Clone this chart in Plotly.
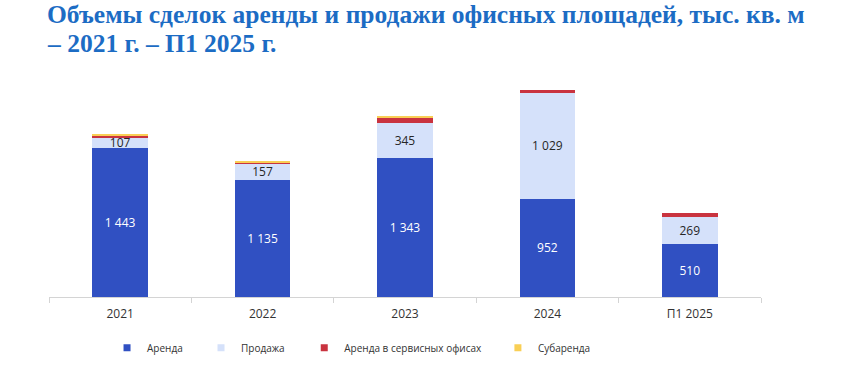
import plotly.graph_objects as go

categories = ["2021", "2022", "2023", "2024", "П1 2025"]
arenda = [1443, 1135, 1343, 952, 510]
prodazha = [107, 157, 345, 1029, 269]
servis = [15, 5, 45, 30, 35]
subarenda = [6, 25, 20, 0, 0]

series_names = ["Аренда", "Продажа", "Аренда в сервисных офисах", "Субаренда"]
series_colors = ["#3050C2", "#D5E1FA", "#C9333F", "#F9CF55"]

def fmt(v):
    return f"{v:,}".replace(",", "\u00a0")

fig = go.Figure()
fig.add_bar(x=categories, y=arenda, name=series_names[0], marker_color=series_colors[0],
            text=[fmt(v) for v in arenda], textposition="inside", insidetextanchor="middle",
            constraintext="none", showlegend=False,
            textfont=dict(color="white", size=12, family="Open Sans"))
fig.add_bar(x=categories, y=prodazha, name=series_names[1], marker_color=series_colors[1],
            text=[fmt(v) for v in prodazha], textposition="inside", insidetextanchor="middle",
            constraintext="none", showlegend=False,
            textfont=dict(color="#262626", size=12, family="Open Sans"))
fig.add_bar(x=categories, y=servis, name=series_names[2], marker_color=series_colors[2],
            showlegend=False)
fig.add_bar(x=categories, y=subarenda, name=series_names[3], marker_color=series_colors[3],
            showlegend=False)

fig.update_traces(marker_line_width=0, cliponaxis=False, selector=dict(type="bar"))

# legend entries (one legend per entry so each can be placed like the reference)
legend_ids = ["legend", "legend2", "legend3", "legend4"]
legend_x = [0.0815, 0.2135, 0.3585, 0.6305]
for name, color, lid in zip(series_names, series_colors, legend_ids):
    fig.add_scatter(x=[None], y=[None], mode="markers", name=name, legend=lid,
                    marker=dict(symbol="square", size=7, color=color), showlegend=True)

legend_style = dict(orientation="h", xanchor="left", y=-0.16, yanchor="top",
                    font=dict(family="Open Sans", size=10, color="#333333"),
                    itemwidth=30, bgcolor="rgba(0,0,0,0)")
legends = {lid: dict(legend_style, x=lx) for lid, lx in zip(legend_ids, legend_x)}

fig.update_layout(
    barmode="stack",
    bargap=0.61,
    width=843, height=366,
    paper_bgcolor="white", plot_bgcolor="white",
    margin=dict(l=49, r=82, t=70, b=69, autoexpand=False),
    showlegend=True,
    **legends,
    xaxis=dict(showline=True, linecolor="#D4D4D4", linewidth=1,
               ticks="outside", tickson="boundaries", ticklen=5, tickcolor="#D4D4D4",
               ticklabelstandoff=6,
               tickfont=dict(family="Open Sans", size=12, color="#333333")),
    yaxis=dict(visible=False, range=[0, 2200]),
    annotations=[
        dict(text="<b>Объемы сделок аренды и продажи офисных площадей, тыс. кв. м</b>",
             xref="paper", yref="paper", x=-0.006, xanchor="left", y=1.0, yanchor="top",
             yshift=72, showarrow=False,
             font=dict(family="Liberation Serif", size=25.5, color="#1C6CC4")),
        dict(text="<b>– 2021 г. – П1 2025 г.</b>",
             xref="paper", yref="paper", x=-0.006, xanchor="left", y=1.0, yanchor="top",
             yshift=43, showarrow=False,
             font=dict(family="Liberation Serif", size=25.5, color="#1C6CC4")),
    ],
)

fig.write_html("out.html", config={"displayModeBar": False},
               post_script="document.body.style.margin='0';")
